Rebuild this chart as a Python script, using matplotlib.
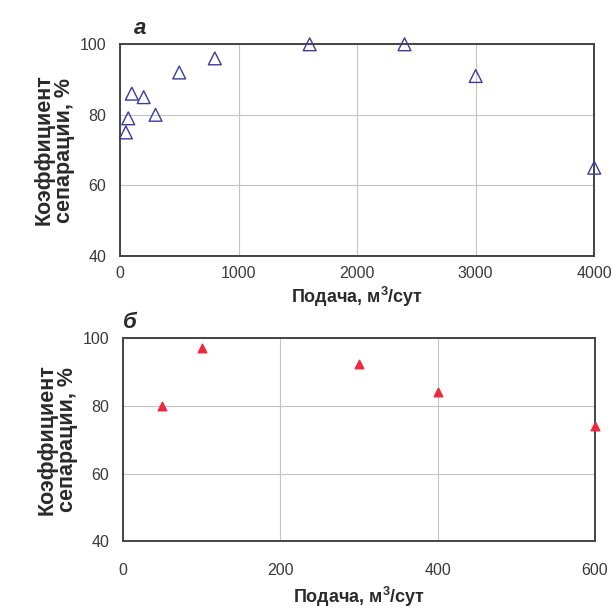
import matplotlib
matplotlib.use("Agg")
import matplotlib.pyplot as plt

# panel a: open triangles
feed_a = [50, 70, 100, 200, 300, 500, 800, 1600, 2400, 3000, 4000]
sep_a = [75, 79, 86, 85, 80, 92, 96, 100, 100, 91, 65]

# panel б: filled triangles
feed_b = [50, 100, 300, 400, 600]
sep_b = [80, 97, 92.5, 84, 74]

xticks_a = [0, 1000, 2000, 3000, 4000]
xticks_b = [0, 200, 400, 600]
yticks = [40, 60, 80, 100]

YLABEL = "Коэффициент\nсепарации, %"
XLABEL = "Подача, м$^3$/сут"
TEXT = "#2a2a2a"

plt.rcParams["font.family"] = ["Liberation Sans", "DejaVu Sans"]
plt.rcParams["mathtext.fontset"] = "custom"
plt.rcParams["mathtext.rm"] = "Liberation Sans:bold"

fig = plt.figure(figsize=(6.12, 6.15), dpi=100)
fig.patch.set_facecolor("white")

ax_a = fig.add_axes([0.196, 0.584, 0.775, 0.344])
ax_b = fig.add_axes([0.201, 0.120, 0.771, 0.330])


def style(ax, xticks, xmax, xpad, xlabelpad):
    ax.set_xlim(0, xmax)
    ax.set_ylim(40, 100)
    ax.set_xticks(xticks)
    ax.set_yticks(yticks)
    ax.grid(True, color="#c4c4c4", linewidth=0.8)
    ax.set_axisbelow(True)
    ax.tick_params(length=0, labelsize=11.5, labelcolor="#3a3a3a")
    ax.tick_params(axis="x", pad=xpad)
    ax.tick_params(axis="y", pad=10)
    for s in ax.spines.values():
        s.set_color("#444444")
        s.set_linewidth(1.4)
    ax.set_xlabel(XLABEL, fontsize=13, fontweight="bold", color=TEXT,
                  labelpad=xlabelpad)
    ax.set_ylabel(YLABEL, fontsize=15.5, fontweight="bold", color=TEXT,
                  labelpad=3, linespacing=1.0)


ax_a.scatter(feed_a, sep_a, marker="^", s=85, facecolors="none",
             edgecolors="#3b3b9c", linewidths=1.0, clip_on=False, zorder=3)
style(ax_a, xticks_a, 4000, 7, 3)

ax_b.scatter(feed_b, sep_b, marker="^", s=38, color="#f0283c",
             clip_on=False, zorder=3)
style(ax_b, xticks_b, 600, 16, 5)

fig.text(140 / 612, 1 - 28 / 615, "а", fontsize=16, fontweight="bold",
         style="italic", color=TEXT, ha="center", va="center")
fig.text(130 / 612, 1 - 322 / 615, "б", fontsize=16, fontweight="bold",
         style="italic", color=TEXT, ha="center", va="center")

fig.savefig("out.png", dpi=100, facecolor=fig.get_facecolor())
